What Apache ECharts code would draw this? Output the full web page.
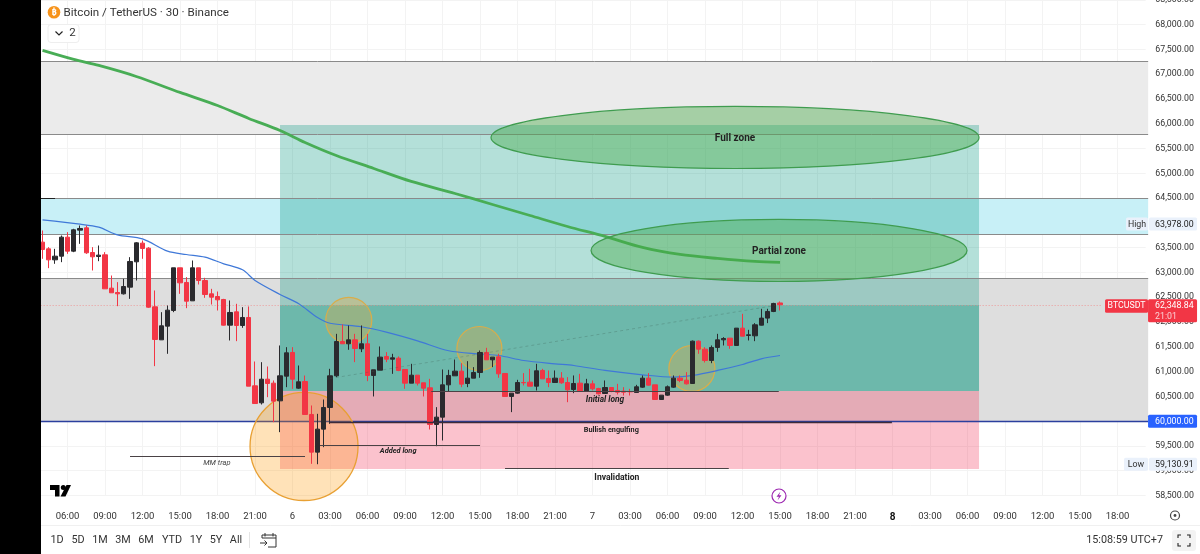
<!DOCTYPE html>
<html><head><meta charset="utf-8">
<script src="https://cdn.jsdelivr.net/npm/echarts@6/dist/echarts.min.js"></script>
<style>html,body{margin:0;padding:0;background:#fff}#c{width:1200px;height:554px}</style>
</head><body><div id="c"></div>
<script>
const barCount = 177;
const tickLabels = ['06:00','09:00','12:00','15:00','18:00','21:00','6','03:00','06:00','09:00','12:00','15:00','18:00','21:00','7','03:00','06:00','09:00','12:00','15:00','18:00','21:00','8','03:00','06:00','09:00','12:00','15:00','18:00'];
const rangeButtons = ['1D','5D','1M','3M','6M','YTD','1Y','5Y','All'];

const opens = [63612,63477,63255,63329,63713,63430,63854,63901,63403,63323,
63356,62684,62596,62569,62704,63215,63592,63491,62307,61641,
61917,62233,63094,62798,62428,63094,62838,62569,62515,62455,
61937,62206,61930,62092,60713,60370,60847,60767,60410,60908,
61386,60666,60800,60135,59375,59839,60276,60915,61608,61561,
61641,61460,61561,60922,61029,61305,61251,61271,61043,60767,
60928,60774,60673,59933,60081,60733,60915,61009,60760,60868,
60982,61386,61238,61298,60962,60498,60565,60780,60787,60706,
61023,60861,60780,60868,60780,60639,60767,60599,60753,60659,
60558,60679,60619,60605,60599,60579,60686,60868,60733,60437,
60525,60686,60868,60827,60760,61614,61453,61224,61487,61641,
61675,61527,61877,61729,61722,61937,62079,62213,62385];
const closes = [63464,63255,63329,63713,63430,63861,63888,63397,63316,63350,
62670,62590,62569,62717,63222,63598,63484,62300,61648,61924,
62240,63094,62791,62421,63094,62838,62556,62502,62448,61937,
62193,61930,62092,60706,60356,60847,60760,60404,60915,61379,
60847,60794,60135,59375,59839,60276,60915,61607,61561,61641,
61467,61561,60922,61036,61292,61251,61278,61023,60767,60928,
60767,60666,59933,60081,60733,60922,61009,60747,60868,60982,
61386,61238,61292,60955,60498,60565,60780,60774,60706,61016,
60854,60780,60868,60774,60632,60760,60599,60753,60653,60552,
60679,60599,60585,60585,60592,60693,60868,60727,60437,60525,
60693,60868,60821,60753,61614,61453,61224,61487,61641,61668,
61527,61877,61715,61742,61944,62079,62213,62375,62349];
const lows = [63276,63087,63175,63208,63376,63410,63578,63376,63040,63228,
62670,62590,62320,62556,62468,62838,63276,62287,61110,61641,
61359,62199,62569,62280,62428,62758,62489,62354,62233,61930,
61628,61614,61883,60706,60356,60336,60484,59980,59778,60686,
60652,60652,60135,59139,59131,59475,59946,60888,61561,61440,
61191,61393,60807,60498,61029,61191,60955,61009,60653,60767,
60720,60498,59832,59495,59610,60599,60915,60686,60686,60868,
60875,61238,61090,60875,60498,60182,60552,60720,60706,60619,
60854,60686,60780,60753,60383,60565,60599,60599,60619,60538,
60552,60585,60538,60518,60518,60579,60673,60720,60431,60431,
60511,60673,60787,60740,60753,61359,61184,61170,61399,61527,
61460,61527,61715,61628,61614,61931,61978,62200,62233];
const highs = [63847,63511,63477,63746,63814,63881,63948,63948,63511,63545,
63410,62939,62805,62872,63309,63612,63645,63511,62637,62199,
62334,63094,63094,62906,63242,63094,62892,62670,62616,62468,
62435,62368,62300,62314,61204,61190,61103,60821,61527,61493,
61493,61123,60921,60316,60148,60437,61056,61762,61951,61931,
61762,61931,61762,61036,61507,61393,61359,61305,61043,61157,
60928,60774,60854,60283,61043,61036,61244,61170,61211,61090,
61426,61480,61292,61359,60962,60565,60834,60969,61056,61157,
61056,61023,61023,60989,60888,60922,60955,60854,60821,60673,
60821,60679,60753,60686,60653,60733,60922,60969,60733,60525,
60720,60922,60922,60989,61628,61628,61493,61527,61762,61695,
61675,61877,62166,61843,61978,62267,62267,62388,62415];

const fastMaIdx = [0,6,9,12,16,20,23,26,29,32,34,38,41,44,46,51,55,60,65,70,73,77,82,85,90,96,101,104,108,112,115,118];
const fastMaVal = [64060,63975,63914,63760,63679,63430,63363,63309,63175,63054,62838,62556,62368,62090,61975,61905,61796,61620,61420,61355,61325,61224,61157,61123,61023,60935,60888,60922,61023,61144,61258,61325];
const slowMaIdx = [0,5,9,15,22,28,33,38,42,47,53,59,66,72,78,84,90,96,102,108,114,118];
const slowMaVal = [67480,67298,67177,66955,66633,66370,66108,65866,65624,65361,65099,64837,64594,64372,64150,63928,63727,63505,63363,63283,63222,63202];

// [fromBar, price, toBar, price, kind]
const fillZones = [
  [-0.3,67258,176.9,65785,'grayA'],
  [-0.3,64494,176.9,63767,'cyan'],
  [-0.3,62879,176.9,60000,'grayB']
];
const positionZones = [
  [38,65967,149.84,60609,'profit'],
  [38,62334,149.84,60609,'profit2'],
  [38,60609,149.84,59025,'stop']
];
const segments = [
  [-0.3,67258,176.9,67258,'band'],
  [-0.3,65785,176.9,65785,'band'],
  [-0.3,64494,176.9,64494,'band'],
  [-0.3,64494,2,64494,'dark'],
  [-0.3,63767,176.9,63767,'band'],
  [-0.3,62879,176.9,62879,'band'],
  [-0.3,60000,176.9,60000,'blue'],
  [-0.3,62349,169.5,62349,'dotted'],
  [46,60861,117.2,62334,'dash'],
  [14,59287,42,59287,'note'],
  [44.4,59529,70,59529,'note'],
  [62.2,60609,117.8,60609,'note'],
  [46,59975,135.9,59975,'noteDark'],
  [74,59045,109.8,59045,'note']
];
// [centreBar, centrePrice, radiusBars, radiusPrice, kind]
const circles = [
  [41.84,59489,8.64,1090,'orange'],
  [49,62032,3.68,464,'orange2'],
  [69.9,61466,3.6,444,'orange2'],
  [103.9,61063,3.68,464,'orange2']
];
const zonesOval = [
  [110.8,65724,39.04,626,'green'],
  [117.84,63444,30.08,626,'green']
];
const noteBars = [27.9,56.9,90,91,91.9,110.8,117.84];
const notePrices = [59166,59408,60457,59832,58883,65724,63444];
const noteTexts = ['MM trap','Added long','Initial long','Bullish engulfing','Invalidation','Full zone','Partial zone'];
const noteKinds = ['i','al','il','b','b2','z','z'];
const tagPrices = [63978,59130.91,60000,62348.84];
const tagValues = ['63,978.00','59,130.91','60,000.00','62,348.84'];
const tagNames = ['High','Low','','BTCUSDT'];

const FONT = 'Roboto, "Noto Sans", sans-serif';
const categories = new Array(barCount).fill('');
tickLabels.forEach((t,i)=>{categories[4+6*i]=t;});
const tickShown = i => i>=4 && (i-4)%6===0;

const zoneFill = {
  grayA:'#ebebeb', cyan:'#c8f0f7', grayB:'#dedede',
  profit:'rgba(8,153,129,0.30)', profit2:'rgba(8,150,125,0.32)', stop:'rgba(242,54,90,0.30)'
};
const segStyle = {
  band:{stroke:'#8a8a8a',lineWidth:1},
  dark:{stroke:'#222',lineWidth:1},
  blue:{stroke:'#2b3f9e',lineWidth:1.3},
  dotted:{stroke:'#f08a8a',lineWidth:0.8,lineDash:[1,2]},
  dash:{stroke:'rgba(60,90,80,0.35)',lineWidth:0.8,lineDash:[3,3]},
  note:{stroke:'#4a4245',lineWidth:1},
  noteDark:{stroke:'#3d2b3a',lineWidth:1.3}
};
const ellStyle = {
  orange:{fill:'rgba(255,152,0,0.28)',stroke:'#e8a033',lineWidth:1.3},
  orange2:{fill:'rgba(255,170,40,0.28)',stroke:'#d9ad4a',lineWidth:1.2},
  green:{fill:'rgba(70,170,70,0.42)',stroke:'#3f9c4f',lineWidth:1.2}
};
const noteFont = {
  i:'italic 7.5px '+FONT, al:'italic bold 7.4px '+FONT, il:'italic bold 8.4px '+FONT, b:'bold 7.3px '+FONT, b2:'bold 8.6px '+FONT, z:'bold 10px '+FONT
};

function mk(opts){
  const o = Object.assign({},opts);
  if(o.align) {o.textAlign=o.align;}
  if(o.verticalAlign) {o.textVerticalAlign=o.verticalAlign;}
  return o;
}
function barX(api,x){
  const k=Math.max(0,Math.min(barCount-1,Math.round(x)));
  return api.coord([k,60000])[0]+(x-k)*api.size([1,0])[0];
}
function renderZone(params,api){
  const x1=barX(api,api.value(0)), x2=barX(api,api.value(2));
  const y1=Math.round(api.coord([0,api.value(1)])[1]), y2=Math.round(api.coord([0,api.value(3)])[1]);
  return {type:'rect',shape:{x:x1,y:y1,width:x2-x1,height:y2-y1},style:{fill:zoneFill[api.value(4)]}};
}
function renderSeg(params,api){
  const x1=barX(api,api.value(0)), x2=barX(api,api.value(2));
  let y1=api.coord([0,api.value(1)])[1], y2=api.coord([0,api.value(3)])[1];
  if(api.value(1)===api.value(3)){ y1=y2=Math.round(y1)+0.5; }
  const s=segStyle[api.value(4)];
  return {type:'line',shape:{x1,y1,x2,y2},style:Object.assign({fill:null},s)};
}
function renderEll(params,api){
  const cx=barX(api,api.value(0)), cy=api.coord([0,api.value(1)])[1];
  const rx=api.value(2)*api.size([1,0])[0], ry=api.value(3)*api.size([0,1])[1];
  return {type:'ellipse',shape:{cx,cy,rx,ry},style:ellStyle[api.value(4)]};
}
function renderNote(params,api){
  const i=api.value(2);
  return {type:'text',x:barX(api,api.value(0)),y:api.coord([0,api.value(1)])[1]+1,
    style:mk({text:noteTexts[i],font:noteFont[noteKinds[i]],fill:noteKinds[i]==='i'?'#444':'#222',align:'center',verticalAlign:'middle'})};
}
function renderTag(params,api){
  const i=params.dataIndex, c=params.coordSys, edge=c.x+c.width+2.4;
  const y=api.coord([0,tagPrices[i]])[1], kids=[];
  const box=(x,yy,w,h,fill)=>kids.push({type:'rect',shape:{x,y:yy,width:w,height:h,r:1.5},style:{fill}});
  const lab=(t,x,yy,fill,al)=>kids.push({type:'text',style:mk({text:t,x,y:yy,fill,font:'8.8px '+FONT,align:al||'left',verticalAlign:'middle'})});
  if(i===0||i===1){
    const w=i===0?22:24;
    box(edge-w,y-6.5,w,13,'#eaf1fb'); box(edge+1,y-6.5,48,13,'#eaf1fb');
    lab(tagNames[i],edge-w/2,y+1,'#333','center'); lab(tagValues[i],edge+7,y+1,'#222');
  } else if(i===2){
    box(edge,y-6.5,49,13,'#2962ff'); lab(tagValues[i],edge+7,y+1,'#fff');
  } else {
    box(edge-43,y-5.5,43,13.5,'#f23645'); lab(tagNames[i],edge-21.5,y+1.5,'#fff','center');
    box(edge,y-5.5,49,23,'#f23645'); lab(tagValues[i],edge+7,y+1.5,'#fff'); lab('21:01',edge+7,y+12,'#fbd0d4');
  }
  return {type:'group',children:kids};
}

const chart = echarts.init(document.getElementById('c'),null,{renderer:'canvas'});
const chromeText=(text,x,y,size,color,align,weight)=>({type:'text',z:100,x,y,style:mk({text,fill:color,font:(weight||'normal')+' '+size+'px '+FONT,align:align||'left',verticalAlign:'middle'})});
const stroke=(points,color,w)=>({type:'polyline',z:100,shape:{points},style:{stroke:color,lineWidth:w,fill:null}});
const rangeX=[57,78,100,123,146,172,196,216,236];
const chrome=[
  {type:'rect',z:100,shape:{x:0,y:0,width:41,height:554},style:{fill:'#000'}},
  {type:'circle',z:100,shape:{cx:54,cy:12.3,r:6.3},style:{fill:'#f7931a'}},
  chromeText('₿',54,12.8,9,'#fff','center','bold'),
  chromeText('Bitcoin / TetherUS · 30 · Binance',63.5,12.8,11.6,'#333'),
  {type:'rect',z:100,shape:{x:48,y:24.5,width:31,height:18,r:3},style:{fill:'#fff',stroke:'#eeeeee',lineWidth:1}},
  stroke([[55.5,31.5],[59,35],[62.5,31.5]],'#222',1.2),
  chromeText('2',72.5,33,11.5,'#333','center'),
  // TradingView mark
  {type:'polygon',z:100,shape:{points:[[50,485],[59.5,485],[59.5,496.5],[55,496.5],[55,490],[50,490]]},style:{fill:'#000'}},
  {type:'circle',z:100,shape:{cx:63.3,cy:487.5,r:2.5},style:{fill:'#000'}},
  {type:'polygon',z:100,shape:{points:[[66.5,485],[71,485],[65.5,496.5],[60.5,496.5]]},style:{fill:'#000'}},
  // lightning marker
  {type:'circle',z:100,shape:{cx:779,cy:496,r:7},style:{fill:'#fff',stroke:'#9c27b0',lineWidth:1.2}},
  {type:'polygon',z:100,shape:{points:[[780.5,491.5],[776.5,496.8],[779,496.8],[777.5,500.5],[781.5,495.2],[779,495.2]]},style:{fill:'#9c27b0'}},
  // separators
  {type:'line',z:100,shape:{x1:41,y1:525.5,x2:1200,y2:525.5},style:{stroke:'#f0f0f0',lineWidth:1}},
  {type:'line',z:100,shape:{x1:249.5,y1:532,x2:249.5,y2:548},style:{stroke:'#e4e4e4',lineWidth:1}},
  // calendar jump
  stroke([[262,538],[262,535],[276,535],[276,547],[268,547]],'#333',1),
  stroke([[262,538],[276,538]],'#333',1),
  stroke([[265,533],[265,536.5]],'#333',1),
  stroke([[273,533],[273,536.5]],'#333',1),
  stroke([[260,543],[267,543]],'#333',1),
  stroke([[264.5,540.5],[267,543],[264.5,545.5]],'#333',1),
  // settings ring
  {type:'circle',z:100,shape:{cx:1175,cy:515.5,r:4.5},style:{fill:'#fff',stroke:'#444',lineWidth:1.2}},
  {type:'circle',z:100,shape:{cx:1175,cy:515.5,r:1.4},style:{fill:'#444'}},
  chromeText('15:08:59 UTC+7',1163,540.5,10.8,'#333','right'),
  {type:'rect',z:100,shape:{x:1172,y:530,width:24,height:21,r:3},style:{fill:'#f3f3f3'}},
  stroke([[1178,538],[1178,535],[1181,535]],'#222',1.1),
  stroke([[1187,535],[1190,535],[1190,538]],'#222',1.1),
  stroke([[1190,543],[1190,546],[1187,546]],'#222',1.1),
  stroke([[1181,546],[1178,546],[1178,543]],'#222',1.1),
  ...rangeButtons.map((t,i)=>chromeText(t,rangeX[i],540.5,10.8,'#333','center'))
];

chart.setOption({
  animation:false,
  backgroundColor:'#fff',
  graphic:{elements:chrome},
  grid:{left:39.4,top:-0.1,width:1106.25,height:495.6,containLabel:false,outerBoundsMode:'none'},
  xAxis:{type:'category',data:categories,boundaryGap:true,
    axisLine:{show:false},axisTick:{show:false,alignWithLabel:true},
    axisLabel:{interval:(i)=>tickShown(i),margin:16.5,fontFamily:FONT,fontSize:9.5,color:'#333',
      formatter:(v)=>v==='8'?'{b|8}':v,rich:{b:{fontWeight:'bold',fontSize:10,color:'#111',fontFamily:FONT}}},
    splitLine:{show:true,alignWithLabel:true,interval:(i)=>tickShown(i),lineStyle:{color:'#f3f3f3',width:1}}},
  yAxis:{type:'value',position:'right',min:58500,max:68500,interval:500,scale:true,
    axisLine:{show:false},axisTick:{show:false},
    axisLabel:{margin:9.6,fontFamily:FONT,fontSize:8.8,color:'#333',align:'left',padding:[3,0,0,0],showMinLabel:true,showMaxLabel:true,
      formatter:(v)=>v.toLocaleString('en-US',{minimumFractionDigits:2,maximumFractionDigits:2})},
    splitLine:{show:true,lineStyle:{color:'#f3f3f3',width:1}}},
  series:[
    {type:'custom',name:'zones',z:1,silent:true,renderItem:renderZone,data:fillZones,encode:{x:0,y:1}},
    {type:'custom',name:'position',z:1,silent:true,renderItem:renderZone,data:positionZones,encode:{x:0,y:1}},
    {type:'custom',name:'lines',z:1,silent:true,renderItem:renderSeg,data:segments.filter(s=>['band','dark','blue','dotted'].includes(s[4])),encode:{x:0,y:1}},
    {type:'custom',name:'circles',z:2,silent:true,renderItem:renderEll,data:circles,encode:{x:0,y:1}},
    {type:'candlestick',name:'BTCUSDT',z:3,barWidth:4.6,silent:true,
      itemStyle:{color:'#2a2a2e',color0:'#f23645',borderColor:'#2a2a2e',borderColor0:'#f23645',borderWidth:1},
      data:opens.map((o,i)=>[o,closes[i],lows[i],highs[i]])},
    {type:'line',name:'fast',z:3,silent:true,symbol:'none',smooth:0.3,lineStyle:{color:'#3f78d8',width:1.2},data:fastMaIdx.map((x,i)=>[x,fastMaVal[i]])},
    {type:'line',name:'slow',z:3,silent:true,symbol:'none',smooth:0.3,lineStyle:{color:'#48ad55',width:2.8},data:slowMaIdx.map((x,i)=>[x,slowMaVal[i]])},
    {type:'custom',name:'ovals',z:4,silent:true,renderItem:renderEll,data:zonesOval,encode:{x:0,y:1}},
    {type:'custom',name:'notesLines',z:5,silent:true,renderItem:renderSeg,data:segments.filter(s=>!['band','dark','blue','dotted'].includes(s[4])),encode:{x:0,y:1}},
    {type:'custom',name:'notes',z:6,silent:true,renderItem:renderNote,data:noteBars.map((x,i)=>[x,notePrices[i],i]),encode:{x:0,y:1}},
    {type:'custom',name:'tags',z:7,silent:true,renderItem:renderTag,data:tagPrices.map((p,i)=>[170,p]),encode:{x:0,y:1}}
  ]
});
</script></body></html>
